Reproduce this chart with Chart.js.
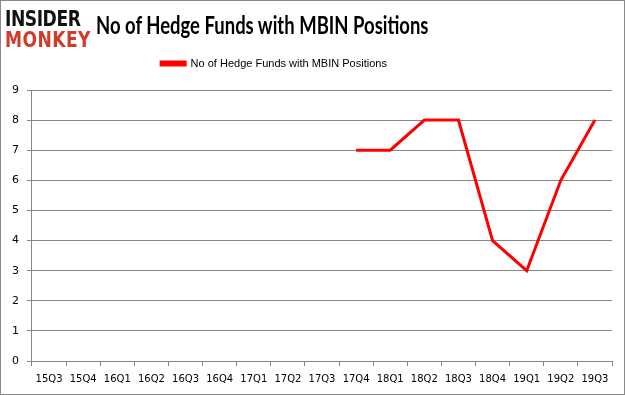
<!DOCTYPE html>
<html>
<head>
<meta charset="utf-8">
<script src="https://cdn.jsdelivr.net/npm/chart.js@4"></script>
<style>
  html, body { margin: 0; padding: 0; background: #fff; }
  #wrap { position: relative; width: 625px; height: 395px; box-sizing: border-box; border: 1px solid #8a8a8a; overflow: hidden; }
  #logo { position: absolute; left: 4px; top: 7px; font-family: "DejaVu Sans", sans-serif; font-weight: bold; line-height: 21px; transform: scaleX(0.78); transform-origin: 0 0; }
  #logo .a { color: #111; font-size: 22px; letter-spacing: -0.6px; }
  #logo .b { color: #d23b2a; font-size: 22px; letter-spacing: 0.5px; }
  #title { position: absolute; left: 95px; top: 9px; font-family: Lato, sans-serif; font-weight: bold; font-size: 24px; color: #000; white-space: nowrap; transform: scaleX(0.77); transform-origin: 0 0; }
  canvas { position: absolute; left: 0; top: 0; }
</style>
</head>
<body>
<div id="wrap">
  <canvas id="c" width="623" height="393"></canvas>
  <div id="logo"><div class="a">INSIDER</div><div class="b">MONKEY</div></div>
  <div id="title">No of Hedge Funds with MBIN Positions</div>
</div>
<script>
const quarters = ['15Q3', '15Q4', '16Q1', '16Q2', '16Q3', '16Q4', '17Q1', '17Q2', '17Q3',
  '17Q4', '18Q1', '18Q2', '18Q3', '18Q4', '19Q1', '19Q2', '19Q3'];
const hedgeFunds = [null, null, null, null, null, null, null, null, null,
  7, 7, 8, 8, 4, 3, 6, 8];
const yTicks = [0, 1, 2, 3, 4, 5, 6, 7, 8, 9];

const grey = '#868686';

// extra room under the legend, and nudge it left like the original
const legendTweak = {
  id: 'legendTweak',
  beforeInit(chart) {
    const fit = chart.legend.fit;
    chart.legend.fit = function () {
      fit.call(this);
      this.height += 11;
    };
  },
  afterLayout(chart) {
    chart.legend.left -= 34;
    chart.legend.right -= 34;
  }
};

new Chart(document.getElementById('c'), {
  type: 'line',
  data: {
    labels: quarters,
    datasets: [{
      label: 'No of Hedge Funds with MBIN Positions',
      data: hedgeFunds,
      borderColor: '#ff0000',
      backgroundColor: '#ff0000',
      borderWidth: 3,
      pointRadius: 0,
      tension: 0
    }]
  },
  options: {
    responsive: false,
    animation: false,
    layout: { padding: { top: 45, right: 12, left: 3, bottom: 2 } },
    scales: {
      x: {
        offset: true,
        grid: { offset: true, drawOnChartArea: false, drawTicks: true, tickLength: 5, color: grey },
        border: { color: grey },
        ticks: { color: '#000', font: { family: 'DejaVu Sans', size: 10 }, maxRotation: 0, autoSkip: false, padding: 7 }
      },
      y: {
        min: 0,
        max: 9,
        grid: { color: grey, tickLength: 5 },
        border: { color: grey },
        afterBuildTicks: axis => { axis.ticks = yTicks.map(v => ({ value: v })); },
        ticks: { color: '#000', font: { family: 'DejaVu Sans', size: 11 }, padding: 8 }
      }
    },
    plugins: {
      legend: {
        labels: {
          color: '#000',
          font: { family: 'Liberation Sans', size: 11 },
          boxWidth: 24,
          boxHeight: 3,
          padding: 12
        }
      },
      tooltip: { enabled: false }
    }
  },
  plugins: [legendTweak]
});
</script>
</body>
</html>
